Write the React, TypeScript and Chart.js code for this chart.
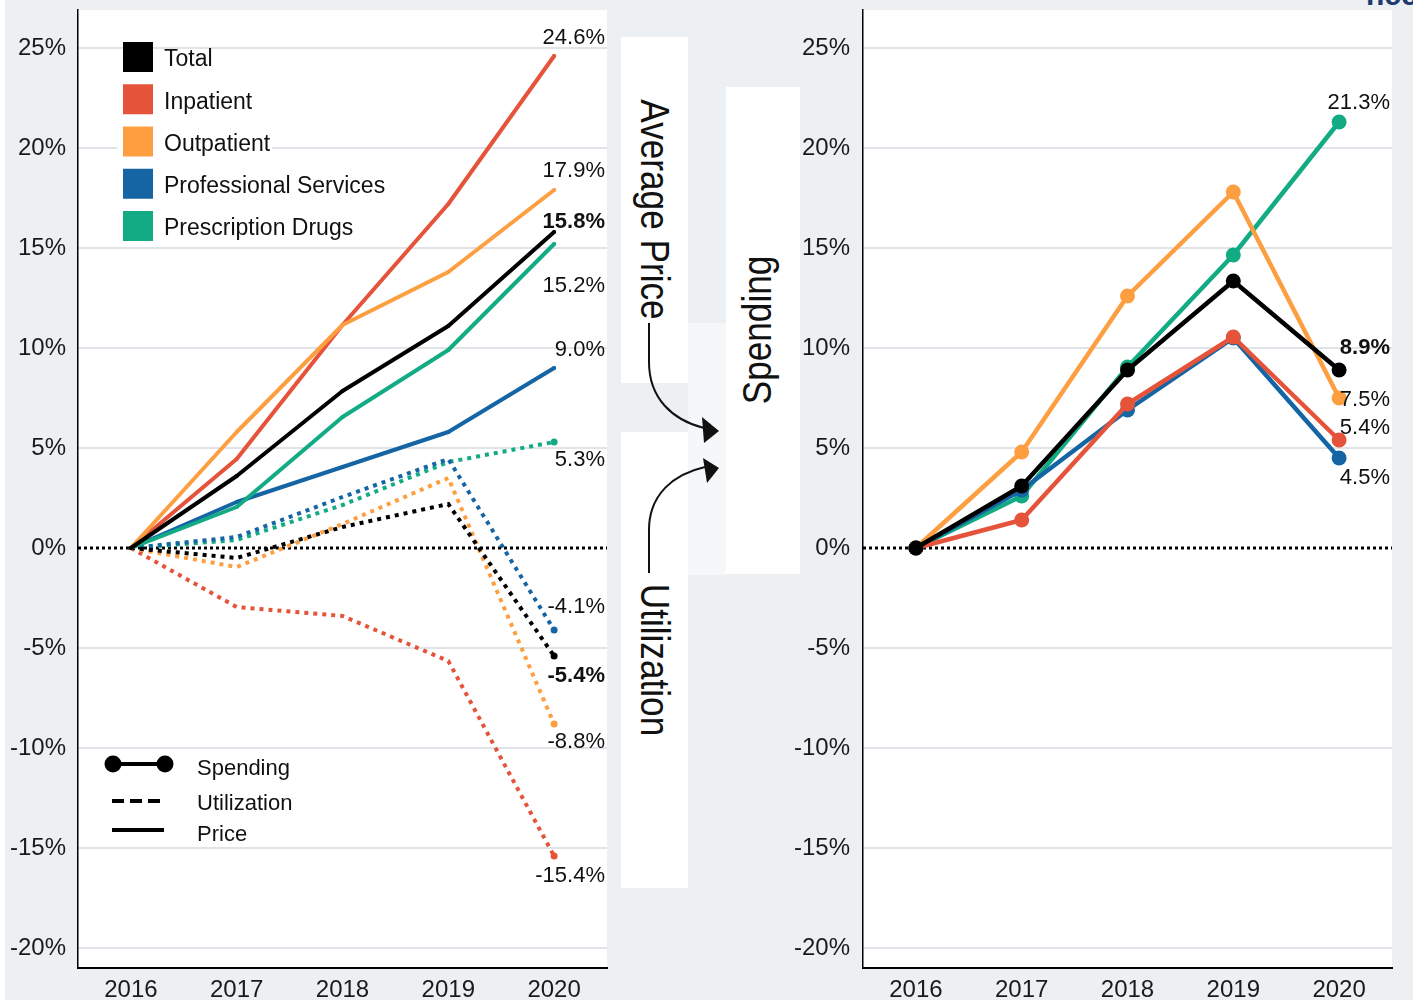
import React, { useEffect, useRef } from 'react';
import { Chart, registerables } from 'chart.js';

Chart.register(...registerables);

// ---------- data ----------
const years = ['2016', '2017', '2018', '2019', '2020'];
const yTickValues = [-20, -15, -10, -5, 0, 5, 10, 15, 20, 25];
const seriesNames = ['Total', 'Inpatient', 'Outpatient', 'Professional Services', 'Prescription Drugs'];
const measureNames = ['Spending', 'Utilization', 'Price'];
const panelLabels = ['Average Price', 'Spending', 'Utilization'];

// Average price change vs 2016 (%)
const priceTotal = [0, 3.6, 7.85, 11.1, 15.8];
const priceInpatient = [0, 4.45, 11.15, 17.2, 24.6];
const priceOutpatient = [0, 5.8, 11.15, 13.8, 17.9];
const priceProfessional = [0, 2.3, 4.05, 5.8, 9.0];
const priceDrugs = [0, 2.05, 6.55, 9.9, 15.2];

// Utilization change vs 2016 (%)
const utilTotal = [0, -0.5, 1.05, 2.2, -5.4];
const utilInpatient = [0, -2.95, -3.4, -5.65, -15.4];
const utilOutpatient = [0, -0.95, 1.2, 3.5, -8.8];
const utilProfessional = [0, 0.55, 2.55, 4.45, -4.1];
const utilDrugs = [0, 0.4, 2.15, 4.3, 5.3];

// Spending change vs 2016 (%)
const spendTotal = [0, 3.1, 8.9, 13.35, 8.9];
const spendInpatient = [0, 1.4, 7.2, 10.55, 5.4];
const spendOutpatient = [0, 4.8, 12.6, 17.8, 7.5];
const spendProfessional = [0, 2.9, 6.9, 10.5, 4.5];
const spendDrugs = [0, 2.6, 9.05, 14.65, 21.3];

// ---------- style ----------
const C_TOTAL = '#000000';
const C_INPAT = '#e5533a';
const C_OUTPAT = '#fd9f41';
const C_PROF = '#1565a5';
const C_DRUGS = '#12ab84';
const seriesColors = [C_TOTAL, C_INPAT, C_OUTPAT, C_PROF, C_DRUGS];
const FONT = '"Liberation Sans", Arial, sans-serif';
const BG = '#ecf0f3';
const GRID = '#e0e4e9';

Chart.defaults.font.family = FONT;

function solid(label: string, data: number[], color: string, dy: number | null, bold = false) {
  return {
    label, data,
    borderColor: color, backgroundColor: color,
    borderWidth: 4, borderCapStyle: 'round', borderJoinStyle: 'round',
    pointRadius: 2, pointHoverRadius: 2, pointBorderWidth: 0,
    tension: 0, fill: false,
    endLabel: dy === null ? null : { dy, bold },
  };
}
function dotted(label: string, data: number[], color: string, dy: number | null, bold = false) {
  return {
    label, data,
    borderColor: color, backgroundColor: color,
    borderWidth: 4, borderDash: [4, 5], borderCapStyle: 'butt',
    pointRadius: [0, 0, 0, 0, 3.5], pointHoverRadius: 3, pointBorderWidth: 0,
    tension: 0, fill: false,
    endLabel: dy === null ? null : { dy, bold },
  };
}
function spend(label: string, data: number[], color: string, dy: number, bold = false) {
  return {
    label, data,
    borderColor: color, backgroundColor: color,
    borderWidth: 4.5, borderCapStyle: 'round', borderJoinStyle: 'round',
    pointRadius: 7.5, pointHoverRadius: 7.5, pointBorderWidth: 0,
    pointBackgroundColor: color,
    tension: 0, fill: false,
    endLabel: { dy, bold },
  };
}

const overlayPlugin = (drawLegend: boolean) => ({
  id: 'overlay',
  beforeDraw(chart: any) {
    const { ctx, chartArea: a } = chart;
    ctx.save();
    ctx.fillStyle = '#ffffff';
    ctx.fillRect(a.left, a.top, a.right - a.left, a.bottom - a.top);
    ctx.restore();
  },
  beforeDatasetsDraw(chart: any) {
    const { ctx, chartArea: a } = chart;
    const y = chart.scales.y.getPixelForValue(0);
    ctx.save();
    ctx.strokeStyle = '#000';
    ctx.lineWidth = 3;
    ctx.setLineDash([3, 3]);
    ctx.beginPath();
    ctx.moveTo(a.left, y);
    ctx.lineTo(a.right, y);
    ctx.stroke();
    ctx.restore();
  },
  afterDatasetsDraw(chart: any) {
    const { ctx, chartArea: a } = chart;
    ctx.save();
    chart.data.datasets.forEach((ds: any, i: number) => {
      if (!ds.endLabel) return;
      const meta = chart.getDatasetMeta(i);
      const pt = meta.data[meta.data.length - 1];
      const v = ds.data[ds.data.length - 1];
      ctx.font = `${ds.endLabel.bold ? 'bold ' : ''}22px ${FONT}`;
      ctx.fillStyle = '#111';
      ctx.textAlign = 'right';
      ctx.textBaseline = 'middle';
      ctx.fillText(v.toFixed(1) + '%', a.right - 2, pt.y + ds.endLabel.dy);
    });
    if (drawLegend) {
      // series legend
      ctx.font = `23px ${FONT}`;
      ctx.textAlign = 'left';
      ctx.textBaseline = 'middle';
      seriesNames.forEach((name, i) => {
        const cy = 57 + i * 42.25;
        const tw = ctx.measureText(name).width;
        ctx.fillStyle = '#fff';
        ctx.fillRect(117, cy - 7, 164 + tw + 2 - 117, 18);
        ctx.fillStyle = seriesColors[i];
        ctx.fillRect(123, cy - 15, 30, 30);
        ctx.fillStyle = '#111';
        ctx.fillText(name, 164, cy + 3);
      });
      // measure legend
      ctx.font = `22px ${FONT}`;
      ctx.strokeStyle = '#000';
      ctx.fillStyle = '#000';
      ctx.lineWidth = 4;
      // Spending
      ctx.beginPath();
      ctx.moveTo(113, 764);
      ctx.lineTo(165, 764);
      ctx.stroke();
      [113, 165].forEach((x) => {
        ctx.beginPath();
        ctx.arc(x, 764, 8.5, 0, Math.PI * 2);
        ctx.fill();
      });
      // Utilization
      ctx.setLineDash([12, 6]);
      ctx.beginPath();
      ctx.moveTo(112, 801);
      ctx.lineTo(162, 801);
      ctx.stroke();
      ctx.setLineDash([]);
      // Price
      ctx.beginPath();
      ctx.moveTo(112, 830);
      ctx.lineTo(164, 830);
      ctx.stroke();
      ctx.fillStyle = '#111';
      const ys = [768.5, 803.5, 835];
      measureNames.forEach((m, i) => ctx.fillText(m, 197, ys[i]));
    }
    ctx.restore();
  },
});

function baseOptions(yWidth: number, padRight: number, labelPad: number) {
  return {
    responsive: false,
    animation: false,
    devicePixelRatio: 1,
    layout: { padding: { top: 10, right: padRight, bottom: 0, left: 0 } },
    plugins: { legend: { display: false }, tooltip: { enabled: false } },
    events: [],
    scales: {
      x: {
        type: 'category',
        offset: true,
        grid: { display: false, drawTicks: false },
        border: { display: true, color: '#000', width: 2 },
        ticks: { font: { size: 24, family: FONT }, color: '#1a1a1a', padding: 8, maxRotation: 0 },
        afterFit: (s: any) => { s.height = 35; },
      },
      y: {
        min: -21,
        max: 26.9,
        afterBuildTicks: (s: any) => { s.ticks = yTickValues.map((v) => ({ value: v })); },
        afterFit: (s: any) => {
          s.width = yWidth;
          s.paddingTop = 0;
          s.paddingBottom = 0;
        },
        grid: {
          drawTicks: false,
          lineWidth: 2,
          color: (c: any) => (c.tick && c.tick.value === 0 ? 'rgba(0,0,0,0)' : GRID),
        },
        border: { display: true, color: '#000', width: 1.5 },
        ticks: {
          font: { size: 24, family: FONT },
          color: '#1a1a1a',
          padding: labelPad,
          callback: (v: any) => `${v}%`,
        },
      },
    },
  };
}

function ChartCanvas({ config, left, width }: { config: any; left: number; width: number }) {
  const ref = useRef<HTMLCanvasElement>(null);
  useEffect(() => {
    const chart = new Chart(ref.current as HTMLCanvasElement, config);
    return () => chart.destroy();
  }, []);
  return (
    <canvas
      ref={ref}
      width={width}
      height={1003}
      style={{ position: 'absolute', left, top: 0, width, height: 1003 }}
    />
  );
}

export default function App() {
  const leftConfig = {
    type: 'line',
    data: {
      labels: years,
      datasets: [
        solid(seriesNames[0], priceTotal, C_TOTAL, -10, true),
        solid(seriesNames[4], priceDrugs, C_DRUGS, 42),
        solid(seriesNames[3], priceProfessional, C_PROF, -18),
        solid(seriesNames[2], priceOutpatient, C_OUTPAT, -19),
        solid(seriesNames[1], priceInpatient, C_INPAT, -18),
        dotted(seriesNames[0], utilTotal, C_TOTAL, 20, true),
        dotted(seriesNames[3], utilProfessional, C_PROF, -23),
        dotted(seriesNames[4], utilDrugs, C_DRUGS, 18),
        dotted(seriesNames[2], utilOutpatient, C_OUTPAT, 18),
        dotted(seriesNames[1], utilInpatient, C_INPAT, 20),
      ],
    },
    options: baseOptions(78, 13, 12),
    plugins: [overlayPlugin(true)],
  };

  const rightConfig = {
    type: 'line',
    data: {
      labels: years,
      datasets: [
        spend(seriesNames[0], spendTotal, C_TOTAL, -22, true),
        spend(seriesNames[1], spendInpatient, C_INPAT, -12),
        spend(seriesNames[3], spendProfessional, C_PROF, 20),
        spend(seriesNames[2], spendOutpatient, C_OUTPAT, 2),
        spend(seriesNames[4], spendDrugs, C_DRUGS, -19),
      ],
    },
    options: baseOptions(83, 21, 13),
    plugins: [overlayPlugin(false)],
  };

  return (
    <div style={{ position: 'fixed', left: 0, top: 0, width: 1413, height: 1003, background: '#fff', overflow: 'hidden' }}>
      <div style={{ position: 'absolute', left: 5, top: 0, width: 1408, height: 1000, background: BG }} />
      <svg
        width={1413}
        height={1003}
        style={{ position: 'absolute', left: 0, top: 0 }}
        fontFamily={FONT}
      >
        <rect x={621} y={37} width={67} height={346} fill="#fff" />
        <rect x={688} y={323} width={38} height={252} fill="#f5f7f9" />
        <rect x={726} y={87} width={74} height={487} fill="#fff" />
        <rect x={621} y={432} width={67} height={456} fill="#fff" />
        <text transform="translate(641,209.5) rotate(90) scale(0.88,1)" fontSize={40} textAnchor="middle" fill="#111">
          {panelLabels[0]}
        </text>
        <text transform="translate(771,330) rotate(-90) scale(0.88,1)" fontSize={40} textAnchor="middle" fill="#111">
          {panelLabels[1]}
        </text>
        <text transform="translate(641,660) rotate(90) scale(0.88,1)" fontSize={40} textAnchor="middle" fill="#111">
          {panelLabels[2]}
        </text>
        <path d="M649 323 L649 362 C649 398 672 420 704 428" stroke="#111" strokeWidth={2} fill="none" />
        <polygon points="702,417 719,431 704,443" fill="#111" />
        <path d="M649 573 L649 530 C649 494 674 474 705 467" stroke="#111" strokeWidth={2} fill="none" />
        <polygon points="703,458 719,468 707,483" fill="#111" />
        <text x={1366} y={5} fontSize={30} fontWeight="bold" fill="#1d3b6e">ncci</text>
      </svg>
      <ChartCanvas config={leftConfig} left={0} width={620} />
      <ChartCanvas config={rightConfig} left={780} width={633} />
    </div>
  );
}
